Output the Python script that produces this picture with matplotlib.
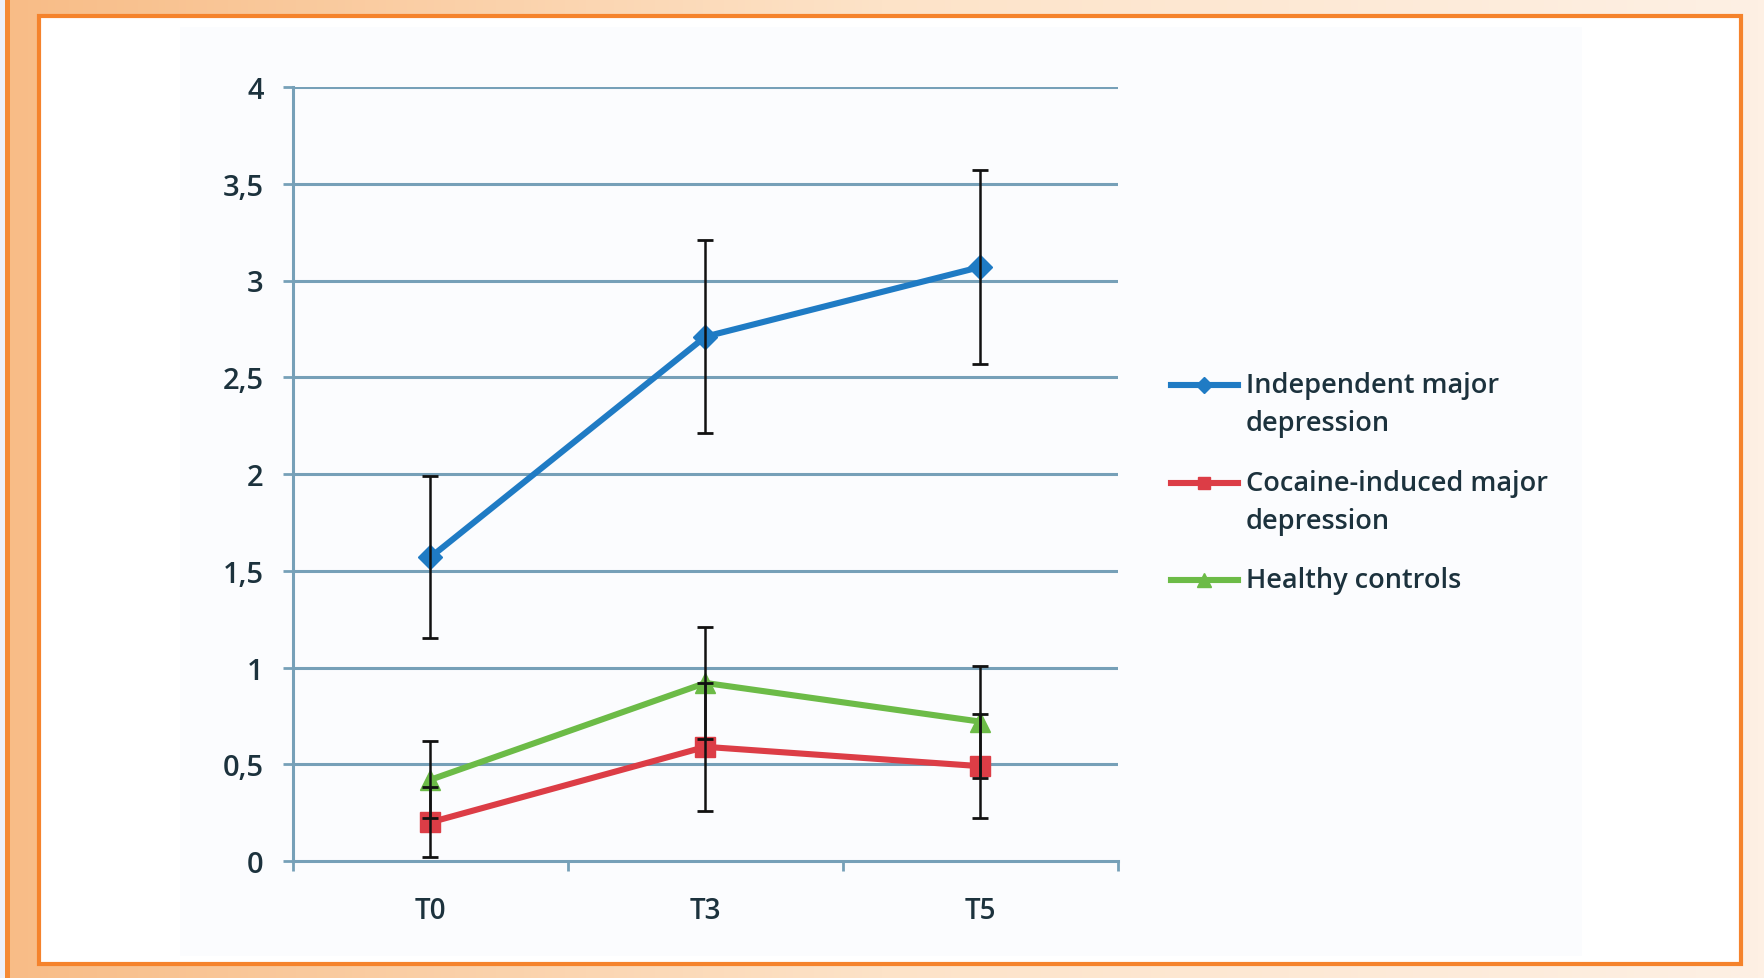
import numpy as np
import matplotlib
matplotlib.use("Agg")
import matplotlib.pyplot as plt
from matplotlib.patches import Rectangle
from matplotlib.lines import Line2D

plt.rcParams['font.family'] = ['Open Sans', 'DejaVu Sans']
plt.rcParams['font.weight'] = 600

# -----------------------------
# datos
# -----------------------------
tiempos = ["T0", "T3", "T5"]
y_ticks = [0, 0.5, 1, 1.5, 2, 2.5, 3, 3.5, 4]
y_labels = ["0", "0,5", "1", "1,5", "2", "2,5", "3", "3,5", "4"]

indep = [1.57, 2.71, 3.07]
indep_err = [0.42, 0.50, 0.50]
cocaina = [0.20, 0.59, 0.49]
cocaina_err = [0.18, 0.33, 0.27]
sanos = [0.42, 0.92, 0.72]
sanos_err = [0.20, 0.29, 0.29]

nombres = ["Independent major\ndepression", "Cocaine-induced major\ndepression", "Healthy controls"]
valores = [indep, cocaina, sanos]
errores = [indep_err, cocaina_err, sanos_err]
colores = ["#1f7bc4", "#dc3d46", "#6cbb47"]
marcas = [("D", 12), ("s", 14), ("^", 15)]

W, H = 1765, 979
fig = plt.figure(figsize=(W / 100, H / 100), dpi=100)

# fondo naranja degradado + recuadro blanco
bg = fig.add_axes([0, 0, 1, 1], zorder=-10)
grad = np.linspace(0, 1, 256)[None, :]
cmap = matplotlib.colors.LinearSegmentedColormap.from_list("o", ["#f8bc86", "#fde3c8", "#fef0e4"])
bg.imshow(grad, aspect="auto", cmap=cmap, extent=[0, 1, 0, 1])
bg.set_xlim(0, 1); bg.set_ylim(0, 1)
bg.axis("off")
bg.add_patch(Rectangle((0, 0), 5 / W, 1, color="#eef0f8", lw=0))
bg.add_patch(Rectangle((5 / W, 0), 5 / W, 1, color="#f58a35", lw=0))
bg.add_patch(Rectangle((39 / W, 1 - 965 / H), (1741 - 39) / W, (965 - 17) / H,
                       facecolor="white", edgecolor="#f5832c", lw=3))
bg.add_patch(Rectangle((180 / W, 1 - 957 / H), (1582 - 180) / W, (957 - 28) / H,
                       facecolor="#fbfcfe", lw=0))

# grafico principal
ax = fig.add_axes([293 / W, 1 - 862 / H, (1118 - 293) / W, (862 - 88) / H])
ax.patch.set_alpha(0)
x = np.arange(len(tiempos))
grid_c = "#76a0b8"
txt_c = "#1c323d"

for yv in y_ticks[1:]:
    ax.axhline(yv, color=grid_c, lw=2.2, zorder=1)

for nombre, vals, errs, col, (mk, ms) in zip(nombres, valores, errores, colores, marcas):
    ax.plot(x, vals, color=col, lw=4.4, marker=mk, ms=ms, zorder=3, label=nombre)
    ax.errorbar(x, vals, yerr=errs, fmt="none", ecolor="#111111", elinewidth=1.8,
                capsize=6, capthick=2, zorder=4)

ax.set_xlim(-0.5, 2.5)
ax.set_ylim(0, 4)
ax.set_yticks(y_ticks)
ax.set_yticklabels(y_labels)
ax.set_xticks(x)
ax.set_xticklabels(tiempos)
ax.set_xticks([-0.5, 0.5, 1.5, 2.5], minor=True)
ax.tick_params(axis="x", which="major", length=0, pad=25, labelsize=20, labelcolor=txt_c)
ax.tick_params(axis="x", which="minor", length=7, width=2, color=grid_c, direction="out")
ax.tick_params(axis="y", length=7, width=2, color=grid_c, pad=14, labelsize=21, labelcolor=txt_c)
for s in ["top", "right"]:
    ax.spines[s].set_visible(False)
for s in ["left", "bottom"]:
    ax.spines[s].set_color(grid_c)
    ax.spines[s].set_linewidth(2.2)

# leyenda a la derecha, con la linea alineada a la primera fila del texto
leg_y = [386, 484, 581]
for nombre, col, (mk, ms), yy in zip(nombres, colores, marcas, leg_y):
    yf = 1 - yy / H
    fig.add_artist(Line2D([1171 / W, 1238 / W], [yf, yf], color=col, lw=4.4,
                          transform=fig.transFigure))
    fig.add_artist(Line2D([1204 / W], [yf], color=col, marker=mk, ms=ms * 0.65,
                          transform=fig.transFigure))
    fig.text(1246 / W, yf + 14 / H, nombre, fontsize=19.5, color=txt_c, va="top",
             ha="left", linespacing=1.5)

fig.savefig("out.png", dpi=100)
